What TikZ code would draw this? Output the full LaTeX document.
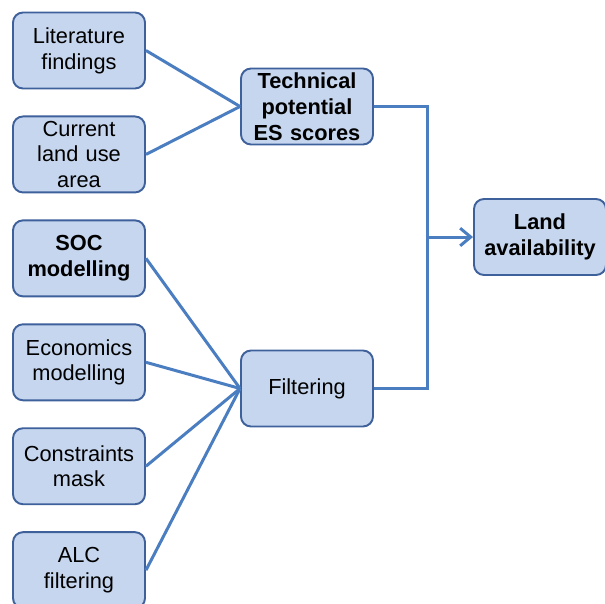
\documentclass[tikz,border=0pt]{standalone}
\usepackage{fontspec}
\setmainfont{Liberation Sans}
\usetikzlibrary{positioning,arrows.meta}

\definecolor{boxfill}{RGB}{198,214,238}
\definecolor{boxline}{RGB}{62,96,155}
\definecolor{wire}{RGB}{74,126,193}

\begin{document}
\begin{tikzpicture}[
    stage/.style={rectangle,rounded corners=0.2cm,draw=boxline,line width=1.1pt,
		fill=boxfill,minimum width=2.64cm,minimum height=1.52cm,
		text width=2.3cm,align=center,inner ysep=0.5pt,
		font=\fontsize{12.4}{14.7}\selectfont},
% result boxes in bold
    result/.style={stage,font=\fontsize{12.4}{14.7}\selectfont\bfseries},
    link/.style={draw=wire,line width=1.7pt},
    node distance=0.52cm
    ]
\useasboundingbox (0,0) rectangle (12.1,-12.06);
\node [stage] (literature) at (1.58,-1.01) {Literature\\findings};
\node [stage,below=of literature] (landuse) {Current\\land use\\area};
\node [result,below=of landuse] (soc) {SOC\\modelling};
\node [stage,below=of soc] (economics) {Economics\\modelling};
\node [stage,below=of economics] (constraints) {Constraints\\mask};
\node [stage,below=of constraints] (alc) {ALC\\filtering};

\node [result] (technical) at (6.14,-2.13) {Technical\\potential\\ES scores};
\node [stage] (filtering) at (6.14,-7.77) {Filtering};
\node [result] (land) at (10.8,-4.74) {Land\\availability};
\coordinate (join) at (8.54,-4.74);

\draw [link] (literature.east) -- (technical.west);
\draw [link] (landuse.east) -- (technical.west);
\foreach \src in {soc,economics,constraints,alc}
  \draw [link] (\src.east) -- (filtering.west);
\draw [link] (technical.east) -| (join) |- (filtering.east);
\draw [link,-{Straight Barb[length=6pt,width=10pt]}] (join) -- (land.west);
\end{tikzpicture}
\end{document}
